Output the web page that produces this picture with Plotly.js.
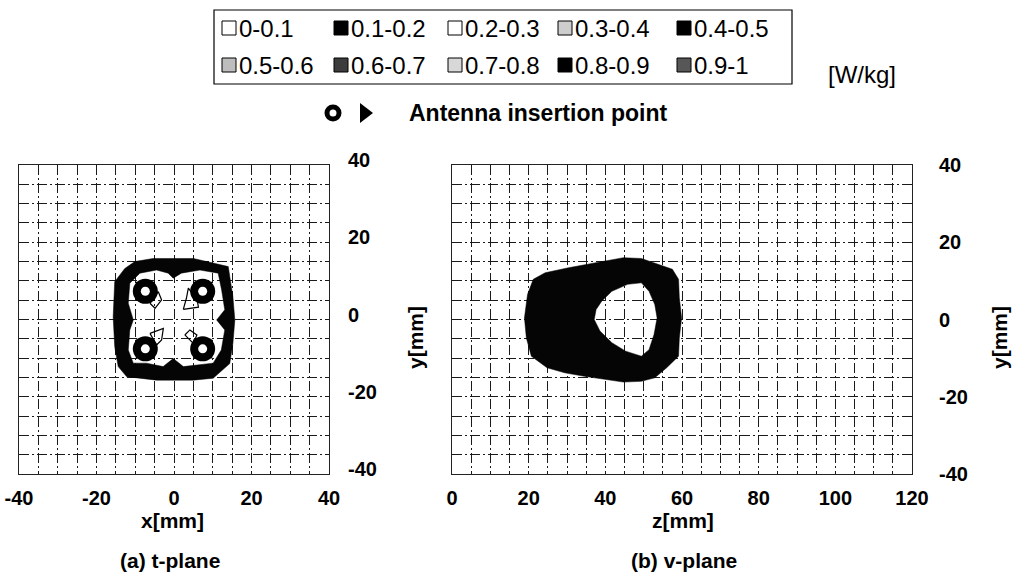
<!DOCTYPE html>
<html>
<head>
<meta charset="utf-8">
<script src="https://cdn.plot.ly/plotly-3.0.1.min.js"></script>
<style>html,body{margin:0;padding:0;background:#fff}</style>
</head>
<body>
<div id="chart" style="width:1016px;height:585px"></div>
<script>
// ---------- legend data ----------
const sarBins = ['0-0.1','0.1-0.2','0.2-0.3','0.3-0.4','0.4-0.5','0.5-0.6','0.6-0.7','0.7-0.8','0.8-0.9','0.9-1'];
const sarBinColors = ['#ffffff','#000000','#ffffff','#cdcdcd','#000000','#bdbdbd','#3c3c3c','#d8d8d8','#000000','#575757'];
const sarUnit = '[W/kg]';
const antennaLabel = 'Antenna insertion point';

// ---------- panel (a) t-plane, x/y in mm ----------
const tOuterX = [-10.1, -5.4, 5.0, 10.1, 14.0, 14.4, 15.2, 15.7, 15.2, 14.4, 10.1, 5.0, -4.5, -12.2, -14.4, -15.3, -15.7, -15.3, -12.7];
const tOuterY = [15.0, 15.8, 15.8, 14.5, 13.7, 11.1, 5.9, -0.1, -6.2, -11.4, -15.2, -15.7, -15.7, -14.8, -12.2, -7.0, 0.7, 9.8, 13.2];
// white low-SAR clover inside the ring (listed counter-clockwise)
const tInnerX = [-1.5, -4.5, -8.8, -11.4, -11.8, -10.5, -11.4, -11.8, -10.5, -7.1, -2.8, -0.2, 2.4, 6.7, 10.1, 12.2, 13.1, 11.0, 13.1, 12.3, 11.4, 6.7, 1.9, -0.2];
const tInnerY = [12.0, 12.8, 12.0, 9.4, 4.2, -0.1, -2.7, -7.9, -11.3, -11.3, -12.2, -10.1, -12.2, -11.8, -11.3, -7.9, -2.7, -0.1, 2.5, 7.6, 12.0, 12.8, 12.0, 10.7];
// thin iso-lines near the antennas
const tLineX = [-6.2, -4.9, -3.2, -4.05, -6.2, null, 2.4, 6.3, 6.0, 3.7, 3.2, 2.4, null, -6.2, -2.75, -3.2, -4.5, -6.2, null, 2.8, 4.1, 5.9, 5.0, 2.8];
const tLineY = [4.2, 2.9, 5.05, 7.2, 4.2, null, 2.6, 3.2, 5.0, 8.1, 5.5, 2.6, null, -3.6, -2.3, -5.3, -6.6, -3.6, null, -4.0, -2.7, -4.0, -6.2, -4.0];
const tAntennaX = [-7.4, 7.4, -7.4, 7.4];
const tAntennaY = [7.3, 7.3, -7.6, -7.6];

// ---------- panel (b) v-plane, z/y in mm ----------
const vOuterZ = [21.2, 24.3, 30.4, 37.6, 44.7, 49.4, 54.0, 57.5, 59.1, 59.3, 59.9, 59.3, 59.1, 56.0, 52.9, 49.4, 44.7, 39.6, 34.5, 29.4, 24.8, 20.7, 19.4, 18.9, 19.7, 20.7];
const vOuterY = [10.4, 12.1, 13.4, 14.7, 16.0, 15.8, 14.3, 13.0, 10.4, 5.6, 0.4, -4.8, -9.5, -12.5, -15.1, -16.0, -16.2, -15.5, -14.7, -13.8, -12.5, -9.5, -4.8, 0.4, 6.5, 9.1];
// low-SAR hole (counter-clockwise)
const vHoleZ = [37.6, 37.1, 38.6, 41.7, 45.3, 49.4, 51.4, 52.7, 53.5, 52.9, 51.4, 49.4, 45.8, 41.7, 39.1];
const vHoleY = [2.6, 0.0, -3.0, -6.0, -8.2, -9.5, -7.8, -3.9, 0.4, 3.9, 7.3, 9.5, 9.1, 7.3, 4.8];
const vAntennaZ = [-2.2, -2.2];
const vAntennaY = [6.5, -8.0];

// ---------- ticks ----------
const xTicks = [-40, -20, 0, 20, 40];
const zTicks = [0, 20, 40, 60, 80, 100, 120];
const yTicks = [-40, -20, 0, 20, 40];

// ---------- build ----------
const W = 1016, H = 585;
const px = v => v / W;
const py = v => 1 - v / H;
const asText = arr => arr.map(v => String(v));   // plain hyphen-minus like the original

const ringX = tOuterX.concat([tOuterX[0], null], tInnerX, [tInnerX[0]]);
const ringY = tOuterY.concat([tOuterY[0], null], tInnerY, [tInnerY[0]]);
const blobZ = vOuterZ.concat([vOuterZ[0], null], vHoleZ, [vHoleZ[0]]);
const blobY = vOuterY.concat([vOuterY[0], null], vHoleY, [vHoleY[0]]);

const traces = [
  {x: ringX, y: ringY, xaxis: 'x', yaxis: 'y', type: 'scatter', mode: 'lines', fill: 'toself',
   fillcolor: '#050505', line: {width: 0.5, color: '#000'}, hoverinfo: 'skip'},
  {x: tLineX, y: tLineY, xaxis: 'x', yaxis: 'y', type: 'scatter', mode: 'lines',
   line: {width: 1.2, color: '#000'}, hoverinfo: 'skip'},
  {x: tAntennaX, y: tAntennaY, xaxis: 'x', yaxis: 'y', type: 'scatter', mode: 'markers',
   marker: {symbol: 'square', size: 19, color: '#000', line: {width: 0}}, hoverinfo: 'skip'},
  {x: tAntennaX, y: tAntennaY, xaxis: 'x', yaxis: 'y', type: 'scatter', mode: 'markers',
   marker: {symbol: 'circle', size: 25, color: '#000', line: {width: 0}}, hoverinfo: 'skip'},
  {x: tAntennaX, y: tAntennaY, xaxis: 'x', yaxis: 'y', type: 'scatter', mode: 'markers',
   marker: {symbol: 'circle', size: 9, color: '#fff', line: {width: 0}}, hoverinfo: 'skip'},
  {x: blobZ, y: blobY, xaxis: 'x2', yaxis: 'y2', type: 'scatter', mode: 'lines', fill: 'toself',
   fillcolor: '#050505', line: {width: 0.5, color: '#000'}, hoverinfo: 'skip'},
  {x: vAntennaZ, y: vAntennaY, xaxis: 'x2', yaxis: 'y2', type: 'scatter', mode: 'markers', cliponaxis: false,
   marker: {symbol: 'triangle-right', size: 24, color: '#000', line: {width: 0}}, hoverinfo: 'skip'}
];

const gridDash = '10px,3px,2px,3px';
const tickFont = {family: '"Liberation Sans", Arial, sans-serif', size: 20, color: '#000', weight: 'bold'};
function axisBase(extra) {
  return Object.assign({
    showgrid: true, gridcolor: '#1a1a1a', gridwidth: 1, griddash: gridDash,
    minor: {dtick: 5, tick0: 0, showgrid: true, gridcolor: '#1a1a1a', gridwidth: 1, griddash: gridDash, ticks: ''},
    zeroline: false, showline: true, mirror: true, linecolor: '#222', linewidth: 1,
    ticks: '', tickmode: 'array', tickfont: tickFont, fixedrange: true
  }, extra);
}
const yDom = [1 - 474 / H, 1 - 165 / H];

const shapes = [];
const annotations = [];

// legend box
shapes.push({type: 'rect', xref: 'paper', yref: 'paper', x0: px(214), x1: px(792), y0: py(10), y1: py(84),
  line: {color: '#000', width: 1.2}, fillcolor: 'rgba(0,0,0,0)'});
const legendCols = [222, 334, 448, 558, 677];
const legendRows = [28, 65];
const legendFont = {family: '"Liberation Sans", Arial, sans-serif', size: 24, color: '#000'};
sarBins.forEach((lab, i) => {
  const c = i % 5, r = Math.floor(i / 5);
  const x0 = legendCols[c], yc = legendRows[r];
  shapes.push({type: 'rect', xref: 'paper', yref: 'paper', x0: px(x0), x1: px(x0 + 14),
    y0: py(yc + 7), y1: py(yc - 7), line: {color: '#000', width: 1}, fillcolor: sarBinColors[i]});
  annotations.push({xref: 'paper', yref: 'paper', x: px(x0 + 15), y: py(yc), xanchor: 'left', yanchor: 'middle',
    text: lab, showarrow: false, font: legendFont});
});
annotations.push({xref: 'paper', yref: 'paper', x: px(862), y: py(74), xanchor: 'center', yanchor: 'middle',
  text: sarUnit, showarrow: false, font: legendFont});

// antenna legend
shapes.push({type: 'circle', xref: 'paper', yref: 'paper', x0: px(327), x1: px(339), y0: py(119), y1: py(107),
  line: {color: '#000', width: 5}, fillcolor: '#fff'});
shapes.push({type: 'path', xref: 'paper', yref: 'paper',
  path: 'M' + px(360) + ',' + py(103) + ' L' + px(373) + ',' + py(113) + ' L' + px(360) + ',' + py(123) + ' Z',
  fillcolor: '#000', line: {width: 0}});
annotations.push({xref: 'paper', yref: 'paper', x: px(407), y: py(113), xanchor: 'left', yanchor: 'middle',
  text: antennaLabel, showarrow: false, font: {family: '"Liberation Sans", Arial, sans-serif', size: 23, color: '#000', weight: 'bold'}});

// axis titles and captions
const titleFont = {family: '"Liberation Sans Narrow", "Liberation Sans", Arial, sans-serif', size: 21, color: '#000', weight: 'bold'};
annotations.push({xref: 'paper', yref: 'paper', x: px(172), y: py(520), text: 'x[mm]', showarrow: false, font: titleFont, xanchor: 'center', yanchor: 'middle'});
annotations.push({xref: 'paper', yref: 'paper', x: px(683), y: py(520), text: 'z[mm]', showarrow: false, font: titleFont, xanchor: 'center', yanchor: 'middle'});
annotations.push({xref: 'paper', yref: 'paper', x: px(416), y: py(338), text: 'y[mm]', showarrow: false, font: titleFont, textangle: -90, xanchor: 'center', yanchor: 'middle'});
annotations.push({xref: 'paper', yref: 'paper', x: px(1000), y: py(338), text: 'y[mm]', showarrow: false, font: titleFont, textangle: -90, xanchor: 'center', yanchor: 'middle'});
annotations.push({xref: 'paper', yref: 'paper', x: px(170), y: py(560), text: '(a) t-plane', showarrow: false, font: titleFont, xanchor: 'center', yanchor: 'middle'});
annotations.push({xref: 'paper', yref: 'paper', x: px(684), y: py(560), text: '(b) v-plane', showarrow: false, font: titleFont, xanchor: 'center', yanchor: 'middle'});

const layout = {
  width: W, height: H, margin: {l: 0, r: 0, t: 0, b: 0},
  paper_bgcolor: '#fff', plot_bgcolor: 'rgba(0,0,0,0)', showlegend: false,
  font: {family: '"Liberation Sans", Arial, sans-serif', color: '#000'},
  xaxis: axisBase({domain: [px(19), px(329)], range: [-40, 40], tickvals: xTicks, ticktext: asText(xTicks), anchor: 'y', ticklabelstandoff: 6}),
  yaxis: axisBase({domain: yDom, range: [-40, 40], tickvals: yTicks, ticktext: asText(yTicks), anchor: 'x', side: 'right', ticklabelstandoff: 14, ticklabelshift: -5}),
  xaxis2: axisBase({domain: [px(452), px(912)], range: [0, 120], tickvals: zTicks, ticktext: asText(zTicks), anchor: 'y2', ticklabelstandoff: 6}),
  yaxis2: axisBase({domain: yDom, range: [-40, 40], tickvals: yTicks, ticktext: asText(yTicks), anchor: 'x2', side: 'right', ticklabelstandoff: 22}),
  shapes: shapes,
  annotations: annotations
};

Plotly.newPlot('chart', traces, layout, {displayModeBar: false, staticPlot: true});
</script>
</body>
</html>
